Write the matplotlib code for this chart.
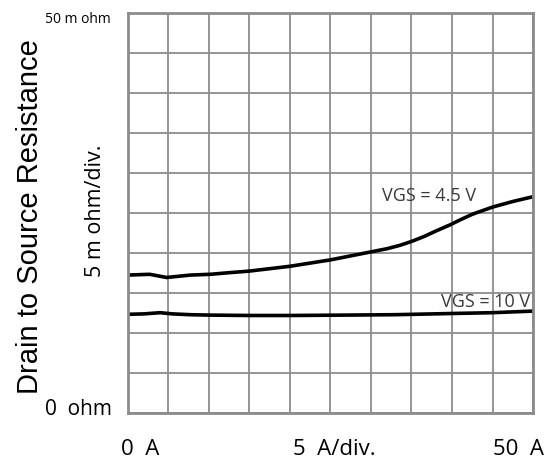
import matplotlib
matplotlib.use("Agg")
import matplotlib.pyplot as plt
import numpy as np

# drain current (A) and on-resistance (m ohm)
id_45 = [0, 2.7, 4.8, 7.7, 10.2, 12.5, 15, 17.5, 20, 22.5, 25, 27.5, 30, 32, 33.5, 35,
         36.5, 38, 39.8, 41, 42.5, 45, 47.5, 50]
rds_45 = [17.3, 17.4, 17.0, 17.3, 17.4, 17.6, 17.8, 18.1, 18.4, 18.8, 19.2, 19.7, 20.2,
          20.6, 21.0, 21.5, 22.1, 22.8, 23.6, 24.2, 24.9, 25.8, 26.5, 27.1]
id_10 = [0, 2, 4, 5.5, 7.7, 10, 15, 20, 27, 33, 40, 45, 50]
rds_10 = [12.4, 12.45, 12.6, 12.45, 12.35, 12.3, 12.25, 12.25, 12.3, 12.35, 12.5, 12.6, 12.8]

fig = plt.figure(figsize=(5.47, 4.62), dpi=100)
ax = fig.add_axes([0.2335, 0.105, 0.741, 0.8658])

ax.set_xlim(0, 50)
ax.set_ylim(0, 50)
ax.set_xticks(np.arange(0, 51, 5))
ax.set_yticks(np.arange(0, 51, 5))
ax.grid(True, color="#8c8c8c", linewidth=1.3)
ax.tick_params(length=0, labelbottom=False, labelleft=False)
for s in ax.spines.values():
    s.set_color("#8c8c8c")
    s.set_linewidth(2)

ax.plot(id_45, rds_45, color="black", linewidth=2.6)
ax.plot(id_10, rds_10, color="black", linewidth=2.6)

lab = dict(family="Open Sans", color="#3a3a3a", fontsize=13, va="baseline")
ax.text(31.4, 26.6, "VGS = 4.5 V", **lab)
ax.text(38.7, 13.3, "VGS = 10 V", **lab)

fig.text(0.055, 0.532, "Drain to Source Resistance", rotation=90, ha="center", va="center",
         fontsize=21, family="Liberation Sans")
fig.text(0.174, 0.543, "5 m ohm/div.", rotation=90, ha="center", va="center",
         fontsize=15.5, family="Open Sans")
fig.text(0.203, 0.957, "50 m ohm", ha="right", va="center", fontsize=10, family="Open Sans")
fig.text(0.205, 0.113, "0  ohm", ha="right", va="center", fontsize=15, family="Open Sans")
fig.text(0.221, 0.026, "0  A", ha="left", va="center", fontsize=16, family="Open Sans")
fig.text(0.536, 0.026, "5  A/div.", ha="left", va="center", fontsize=16, family="Open Sans")
fig.text(0.995, 0.026, "50  A", ha="right", va="center", fontsize=16, family="Open Sans")

fig.savefig("out.png", dpi=100)
